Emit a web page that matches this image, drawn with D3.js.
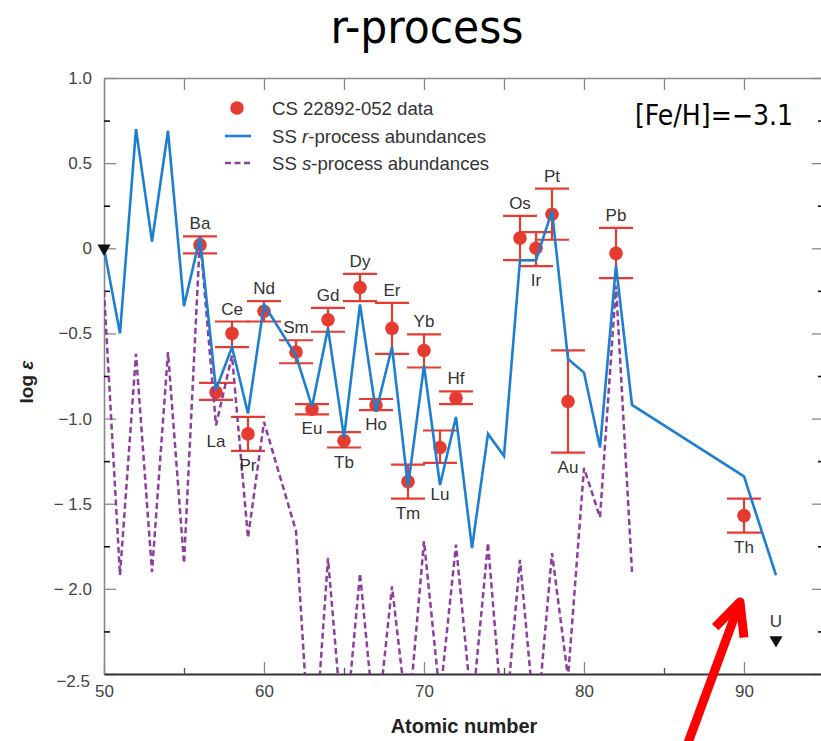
<!DOCTYPE html>
<html><head><meta charset="utf-8">
<script src="https://cdn.jsdelivr.net/npm/d3@7"></script>
<style>
html,body{margin:0;padding:0;background:#fff;}
svg{display:block;}
</style></head>
<body>
<svg id="chart" width="821" height="741"></svg>
<script>
// ---------- data ----------
const rZ = [50,51,52,53,54,55,56,57,58,59,60,62,63,64,65,66,67,68,69,70,71,72,73,74,75,76,77,78,79,80,81,82,83,90,92];
const rVal = [0.00,-0.50,0.70,0.04,0.69,-0.34,0.065,-0.83,-0.58,-0.97,-0.33,-0.63,-0.93,-0.47,-1.11,-0.33,-0.96,-0.58,-1.40,-0.69,-1.39,-0.99,-1.76,-1.09,-1.22,-0.07,-0.07,0.22,-0.65,-0.73,-1.17,-0.10,-0.92,-1.34,-1.92];

const sZ = [50,51,52,53,54,55,56,57,58,59,60,62,63,64,65,66,67,68,69,70,71,72,73,74,75,76,77,78,79,80,81,82,83];
const sVal = [-0.25,-1.92,-0.62,-1.90,-0.61,-1.85,0.065,-1.04,-0.63,-1.70,-1.02,-1.66,-3.17,-1.82,-2.93,-1.91,-2.88,-1.985,-2.80,-1.72,-2.64,-1.74,-2.72,-1.73,-2.88,-1.83,-2.86,-1.79,-2.52,-1.29,-1.58,-0.22,-1.90];

const obsName = ["Ba","La","Ce","Pr","Nd","Sm","Eu","Gd","Tb","Dy","Ho","Er","Tm","Yb","Lu","Hf","Os","Ir","Pt","Au","Pb","Th"];
const obsZ    = [56,57,58,59,60,62,63,64,65,66,67,68,69,70,71,72,76,77,78,79,82,90];
const obsVal  = [0.02,-0.845,-0.50,-1.09,-0.37,-0.61,-0.945,-0.42,-1.13,-0.23,-0.92,-0.47,-1.37,-0.60,-1.17,-0.88,0.06,0.00,0.20,-0.90,-0.03,-1.57];
const obsHi   = [0.07,-0.79,-0.43,-0.99,-0.31,-0.54,-0.915,-0.35,-1.08,-0.15,-0.885,-0.32,-1.27,-0.505,-1.07,-0.84,0.19,0.095,0.35,-0.60,0.12,-1.47];
const obsLo   = [-0.03,-0.89,-0.58,-1.19,-0.43,-0.675,-0.975,-0.49,-1.17,-0.31,-0.95,-0.62,-1.47,-0.70,-1.26,-0.915,-0.07,-0.105,0.05,-1.20,-0.175,-1.67];

const limName = ["","U"];
const limZ    = [50,92];
const limVal  = [0.0,-2.30];

const yTicks = [1.0,0.5,0,-0.5,-1.0,-1.5,-2.0,-2.5];
const yTickLabels = ["1.0","0.5","0","\u22120.5","\u22121.0","\u2212 1.5","\u2212 2.0","\u22122.5"];
const yMinor = [0.75,0.25,-0.25,-0.75,-1.25,-1.75,-2.25];
const xTicks = [50,60,70,80,90];
const xTickLabels = ["50","60","70","80","90"];
const xMinor = [55,65,75,85];
const xTopTicks = [55,60,65,70,75,80,85,90];

const legendLabels = ["CS 22892-052 data","SS r-process abundances","SS s-process abundances"];

// label layout (side: 1 above, -1 below; extra px)
const labelSide  = [1,-1,1,-1,1,1,-1,1,-1,1,-1,1,-1,1,-1,1,1,-1,1,-1,1,-1];
const labelExtra = [0,27,0,0,0,0,0,0,0,0,0,0,0,0,17,0,0,0,0,0,0,0];

// annotation arrow (data units): tail, tip, wings
const arrowZ   = [86.4, 89.75, 88.2, 90.0];
const arrowVal = [-2.93, -2.077, -2.225, -2.285];

// ---------- chart ----------
const svg = d3.select("#chart");
const W = 821, H = 741;
svg.append("rect").attr("width",W).attr("height",H).attr("fill","#fff");

const x = d3.scaleLinear().domain([50,95]).range([104,824]);
const y = d3.scaleLinear().domain([-2.5,1]).range([674,78]);

const FONT = "'Liberation Sans', Arial, Helvetica, sans-serif";
const RED = "#e63b30", BLUE = "#1f7fcf", PURPLE = "#8e3f9e";

// axes
function styleAxis(g, color, width){
  g.select(".domain").attr("stroke",color).attr("stroke-width",width);
  g.selectAll(".tick line").attr("stroke",color).attr("stroke-width",1.3);
  g.selectAll(".tick text").attr("font-family",FONT).attr("font-size",17).attr("fill","#444");
}
const gLeft = svg.append("g").attr("transform",`translate(${x(50)},0)`)
  .call(d3.axisLeft(y).tickValues(yTicks).tickFormat((d,i)=>yTickLabels[i]).tickSizeInner(-12).tickSizeOuter(0).tickPadding(12));
styleAxis(gLeft,"#888",1.6);
const gLeftMin = svg.append("g").attr("transform",`translate(${x(50)},0)`)
  .call(d3.axisLeft(y).tickValues(yMinor).tickFormat("").tickSizeInner(-6).tickSizeOuter(0));
gLeftMin.select(".domain").remove();
gLeftMin.selectAll(".tick line").attr("stroke","#111").attr("stroke-width",1.6);

const gRight = svg.append("g").attr("transform",`translate(${x(95)},0)`)
  .call(d3.axisRight(y).tickValues(yTicks).tickFormat("").tickSizeInner(-12).tickSizeOuter(0));
styleAxis(gRight,"#888",1.6);
const gRightMin = svg.append("g").attr("transform",`translate(${x(95)},0)`)
  .call(d3.axisRight(y).tickValues(yMinor).tickFormat("").tickSizeInner(-6).tickSizeOuter(0));
gRightMin.select(".domain").remove();
gRightMin.selectAll(".tick line").attr("stroke","#111").attr("stroke-width",1.6);

const gTop = svg.append("g").attr("transform",`translate(0,${y(1)})`)
  .call(d3.axisTop(x).tickValues(xTopTicks).tickFormat("").tickSizeInner(-12).tickSizeOuter(0));
styleAxis(gTop,"#888",1.6);

const gBot = svg.append("g").attr("transform",`translate(0,${y(-2.5)})`)
  .call(d3.axisBottom(x).tickValues(xTicks).tickFormat((d,i)=>xTickLabels[i]).tickSizeInner(-12).tickSizeOuter(0).tickPadding(11));
styleAxis(gBot,"#888",1.6);
gBot.select(".domain").attr("stroke","#333").attr("stroke-width",1.8);
const gBotMin = svg.append("g").attr("transform",`translate(0,${y(-2.5)})`)
  .call(d3.axisBottom(x).tickValues(xMinor).tickFormat("").tickSizeInner(-6).tickSizeOuter(0));
gBotMin.select(".domain").remove();
gBotMin.selectAll(".tick line").attr("stroke","#555").attr("stroke-width",1.3);
// corner labels nudge
gLeft.selectAll(".tick text").filter(d=>d===-2.5).attr("dy","0.75em").attr("dx","-2");

// axis titles
svg.append("text").attr("x",464).attr("y",733).attr("text-anchor","middle")
  .attr("font-family",FONT).attr("font-weight","bold").attr("font-size",20).attr("fill","#222")
  .text("Atomic number");
const yl = svg.append("text").attr("transform","translate(33,382) rotate(-90)").attr("text-anchor","middle")
  .attr("font-family",FONT).attr("font-weight","bold").attr("font-size",19).attr("fill","#222");
yl.append("tspan").text("log ");
yl.append("tspan").attr("font-style","italic").text("\u03b5");

// title
svg.append("text").attr("x",427).attr("y",43).attr("text-anchor","middle")
  .attr("font-family","'DejaVu Sans Condensed','DejaVu Sans',sans-serif").attr("font-size",46)
  .attr("textLength",193).attr("lengthAdjust","spacingAndGlyphs").attr("fill","#000")
  .text("r-process");
svg.append("text").attr("x",635).attr("y",125)
  .attr("font-family","'DejaVu Sans Condensed','DejaVu Sans',sans-serif").attr("font-size",28)
  .attr("textLength",158).attr("lengthAdjust","spacingAndGlyphs").attr("fill","#000")
  .text("[Fe/H]=\u22123.1");

// clip
svg.append("clipPath").attr("id","plotclip").append("rect")
  .attr("x",x(50)).attr("y",y(1)).attr("width",x(95)-x(50)).attr("height",y(-2.5)-y(1));

// observed data: error bars + points
const obs = obsZ.map((z,i)=>({z,v:obsVal[i],hi:obsHi[i],lo:obsLo[i],name:obsName[i],side:labelSide[i],extra:labelExtra[i]}));
const gObs = svg.append("g");
const capW = 17;
obs.forEach(d=>{
  const g = gObs.append("g").attr("stroke",RED).attr("stroke-width",2.2);
  g.append("line").attr("x1",x(d.z)).attr("x2",x(d.z)).attr("y1",y(d.hi)).attr("y2",y(d.lo));
  g.append("line").attr("x1",x(d.z)-capW).attr("x2",x(d.z)+capW).attr("y1",y(d.hi)).attr("y2",y(d.hi));
  g.append("line").attr("x1",x(d.z)-capW).attr("x2",x(d.z)+capW).attr("y1",y(d.lo)).attr("y2",y(d.lo));
});
gObs.selectAll("circle").data(obs).join("circle")
  .attr("cx",d=>x(d.z)).attr("cy",d=>y(d.v)).attr("r",6.8).attr("fill",RED);

// lines
const line = d3.line().x(d=>x(d[0])).y(d=>y(d[1]));
svg.append("path").datum(sZ.map((z,i)=>[z,sVal[i]])).attr("clip-path","url(#plotclip)")
  .attr("d",line).attr("fill","none").attr("stroke",PURPLE).attr("stroke-width",2.5)
  .attr("stroke-dasharray","6,3.5");
svg.append("path").datum(rZ.map((z,i)=>[z,rVal[i]])).attr("clip-path","url(#plotclip)")
  .attr("d",line).attr("fill","none").attr("stroke",BLUE).attr("stroke-width",2.6).attr("stroke-linejoin","miter");

// element labels
svg.append("g").selectAll("text").data(obs).join("text")
  .attr("x",d=>x(d.z)).attr("text-anchor","middle")
  .attr("y",d=> d.side>0 ? y(d.hi)-7 : y(d.lo)+20+d.extra)
  .attr("font-family",FONT).attr("font-size",17).attr("fill","#333")
  .text(d=>d.name);

// upper limits
const tri = d3.symbol().type(d3.symbolTriangle).size(75);
limZ.forEach((z,i)=>{
  svg.append("path").attr("d",tri).attr("fill","#111")
    .attr("transform",`translate(${x(z)},${y(limVal[i])}) rotate(180)`);
  if(limName[i]) svg.append("text").attr("x",x(z)).attr("y",y(limVal[i])-13).attr("text-anchor","middle")
    .attr("font-family",FONT).attr("font-size",17).attr("fill","#333").text(limName[i]);
});

// legend
const lg = svg.append("g").attr("font-family",FONT).attr("font-size",18.6).attr("fill","#333");
const ly = [108,136,163];
lg.append("circle").attr("cx",237).attr("cy",ly[0]).attr("r",6.8).attr("fill",RED);
lg.append("line").attr("x1",225).attr("x2",251).attr("y1",ly[1]).attr("y2",ly[1]).attr("stroke",BLUE).attr("stroke-width",2.6);
lg.append("line").attr("x1",225).attr("x2",251).attr("y1",ly[2]).attr("y2",ly[2]).attr("stroke",PURPLE).attr("stroke-width",2.5).attr("stroke-dasharray","6,3.5");
lg.append("text").attr("x",272).attr("y",ly[0]).attr("dy","0.35em").text(legendLabels[0]);
[1,2].forEach(k=>{
  const parts = legendLabels[k].split(/(\b[rs])(?=-process)/);
  const t = lg.append("text").attr("x",272).attr("y",ly[k]).attr("dy","0.35em");
  parts.forEach(p=>{ if(!p) return; const ts=t.append("tspan").text(p); if(p==="r"||p==="s") ts.attr("font-style","italic"); });
});

// red arrow annotation
const ap = arrowZ.map((z,i)=>[x(z),y(arrowVal[i])]);
const ag = svg.append("g").attr("stroke","#ff0000").attr("stroke-width",9).attr("fill","none").attr("stroke-linejoin","round");
ag.append("line").attr("x1",ap[0][0]).attr("y1",ap[0][1]).attr("x2",ap[1][0]).attr("y2",ap[1][1]);
ag.append("path").attr("d",`M${ap[2][0]},${ap[2][1]}L${ap[1][0]},${ap[1][1]}L${ap[3][0]},${ap[3][1]}`);
</script>
</body></html>
